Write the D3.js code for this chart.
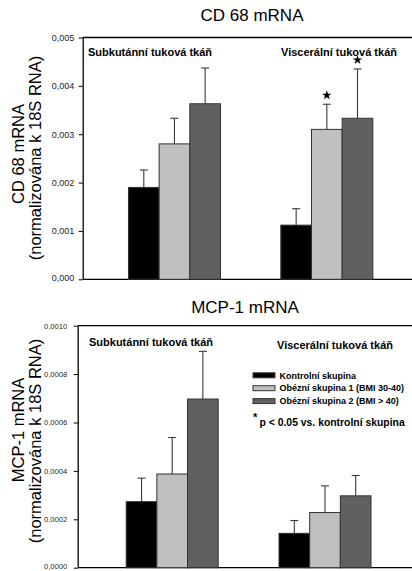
<!DOCTYPE html>
<html>
<head>
<meta charset="utf-8">
<title>CD 68 / MCP-1 mRNA</title>
<script src="https://d3js.org/d3.v7.min.js"></script>
<style>
  body { margin: 0; background: #fff; }
  svg { display: block; font-family: Arial, "Liberation Sans", sans-serif; }
</style>
</head>
<body>
<svg id="chart" width="412" height="571"></svg>
<script>
// data
const groups = ["Subkutánní tuková tkáň", "Viscerální tuková tkáň"];
const series = ["Kontrolní skupina", "Obézní skupina 1 (BMI 30-40)", "Obézní skupina 2 (BMI > 40)"];
const colors = ["#000000", "#c0c0c0", "#606060"];

const cd68Values = [[0.00190, 0.00280, 0.00363], [0.00112, 0.00310, 0.00333]];
const cd68Errors = [[0.00036, 0.00053, 0.00074], [0.00034, 0.00052, 0.00102]];
const cd68Sig = [[false, false, false], [false, true, true]];
const cd68Ticks = [0, 0.001, 0.002, 0.003, 0.004, 0.005];

const mcpValues = [[0.000273, 0.000387, 0.000697], [0.000142, 0.000228, 0.000297]];
const mcpErrors = [[0.000097, 0.000151, 0.000197], [0.000053, 0.000110, 0.000084]];
const mcpSig = [[false, false, false], [false, false, false]];
const mcpTicks = [0, 0.0002, 0.0004, 0.0006, 0.0008, 0.0010];

const svg = d3.select("#chart");

function drawPanel(cfg) {
  const g = svg.append("g");
  const y = d3.scaleLinear().domain([0, cfg.max]).range([cfg.bottom, cfg.top]);
  const x0 = d3.scaleBand().domain(groups).range(cfg.groupRange);
  const cluster = 92;
  const x1 = d3.scaleBand().domain(series)
      .range([(x0.bandwidth() - cluster) / 2, (x0.bandwidth() + cluster) / 2]);

  // title
  g.append("text").attr("x", cfg.titleX).attr("y", cfg.titleY)
    .attr("text-anchor", "middle").attr("font-size", 17).text(cfg.title);

  // y label, two lines
  g.append("text").attr("transform", `translate(${cfg.lab1X},${cfg.lab1Y}) rotate(-90)`)
    .attr("text-anchor", "middle").attr("font-size", 16.5).text(cfg.label1);
  g.append("text").attr("transform", `translate(${cfg.lab2X},${cfg.lab2Y}) rotate(-90)`)
    .attr("text-anchor", "middle").attr("font-size", 16.5).text("(normalizována k 18S RNA)");

  // axis
  const ax = g.append("g").attr("transform", `translate(${cfg.left},0)`)
    .call(d3.axisLeft(y).tickValues(cfg.ticks).tickSize(4).tickSizeOuter(0)
      .tickPadding(cfg.pad).tickFormat(d => d.toFixed(cfg.dec).replace(".", ",")));
  ax.selectAll("text").attr("font-size", cfg.tickFont).attr("fill", "#222")
    .attr("font-family", "Arial, 'Liberation Sans', sans-serif");
  // keep the zero label inside the page
  ax.selectAll(".tick text").filter(d => d === 0).attr("dy", "0.12em");
  ax.select(".domain").attr("stroke-width", 1.3);
  ax.selectAll(".tick line").attr("stroke-width", 1);

  // frame lines top and bottom
  g.append("line").attr("x1", cfg.left).attr("x2", 412).attr("y1", y(cfg.max)).attr("y2", y(cfg.max))
    .attr("stroke", "#000").attr("stroke-width", 1.3);
  g.append("line").attr("x1", cfg.left).attr("x2", 412).attr("y1", y(0)).attr("y2", y(0))
    .attr("stroke", "#000").attr("stroke-width", 1.3);

  const rows = [];
  groups.forEach((gr, i) => series.forEach((s, j) => rows.push({
    group: gr, series: s, color: colors[j], v: cfg.values[i][j], e: cfg.errors[i][j], sig: cfg.sig[i][j]
  })));

  const bx = d => x0(d.group) + x1(d.series);
  const cx = d => bx(d) + x1.bandwidth() / 2;

  // error bars (drawn first so the bar covers the lower half)
  g.selectAll(".err").data(rows).join("line")
    .attr("x1", cx).attr("x2", cx).attr("y1", d => y(d.v)).attr("y2", d => y(d.v + d.e))
    .attr("stroke", "#3a3a3a").attr("stroke-width", 1.1);
  g.selectAll(".cap").data(rows).join("line")
    .attr("x1", d => cx(d) - 4).attr("x2", d => cx(d) + 4)
    .attr("y1", d => y(d.v + d.e)).attr("y2", d => y(d.v + d.e))
    .attr("stroke", "#3a3a3a").attr("stroke-width", 1.1);

  g.selectAll(".bar").data(rows).join("rect")
    .attr("x", bx).attr("width", x1.bandwidth())
    .attr("y", d => y(d.v)).attr("height", d => y(0) - y(d.v))
    .attr("fill", d => d.color).attr("stroke", "#333").attr("stroke-width", 1);

  // significance stars
  g.selectAll(".star").data(rows.filter(d => d.sig)).join("path")
    .attr("d", d3.symbol().type(d3.symbolStar).size(28))
    .attr("transform", d => `translate(${cx(d)},${y(d.v + d.e) - 9})`)
    .attr("fill", "#000");

  // group labels
  cfg.groupLabels.forEach((p, i) => {
    g.append("text").attr("x", p[0]).attr("y", p[1]).attr("font-size", 11)
      .attr("font-weight", "bold").text(groups[i]);
  });
  return { g, y };
}

drawPanel({
  title: "CD 68 mRNA", titleX: 252, titleY: 21,
  label1: "CD 68 mRNA", lab1X: 24, lab1Y: 154, lab2X: 41, lab2Y: 158,
  left: 82.7, top: 37.5, bottom: 279.3, max: 0.005, ticks: cd68Ticks, dec: 3,
  tickFont: 9, pad: 4.5, groupRange: [98.3, 403],
  values: cd68Values, errors: cd68Errors, sig: cd68Sig,
  groupLabels: [[88, 56], [281, 56]]
});

const bottom = drawPanel({
  title: "MCP-1 mRNA", titleX: 245, titleY: 313,
  label1: "MCP-1 mRNA", lab1X: 24, lab1Y: 430, lab2X: 41, lab2Y: 441,
  left: 77.7, top: 325.7, bottom: 567.7, max: 0.0010, ticks: mcpTicks, dec: 4,
  tickFont: 7.6, pad: 6.5, groupRange: [95.8, 401.4],
  values: mcpValues, errors: mcpErrors, sig: mcpSig,
  groupLabels: [[89, 345.5], [277, 349]]
});

// legend
const leg = bottom.g.append("g");
series.forEach((s, i) => {
  const yy = 375.3 + i * 12.9;
  leg.append("rect").attr("x", 253).attr("y", yy - 2.5).attr("width", 22).attr("height", 5)
    .attr("fill", colors[i]).attr("stroke", "#333").attr("stroke-width", 1);
  leg.append("text").attr("x", 279.5).attr("y", yy + 3.2).attr("font-size", 9)
    .attr("font-weight", "bold").text(s);
});

// footnote
leg.append("text").attr("x", 253).attr("y", 421).attr("font-size", 11)
  .attr("font-weight", "bold").text("*");
leg.append("text").attr("x", 259.5).attr("y", 425.5).attr("font-size", 10.4)
  .attr("font-weight", "bold").text("p < 0.05 vs. kontrolní skupina");
</script>
</body>
</html>
